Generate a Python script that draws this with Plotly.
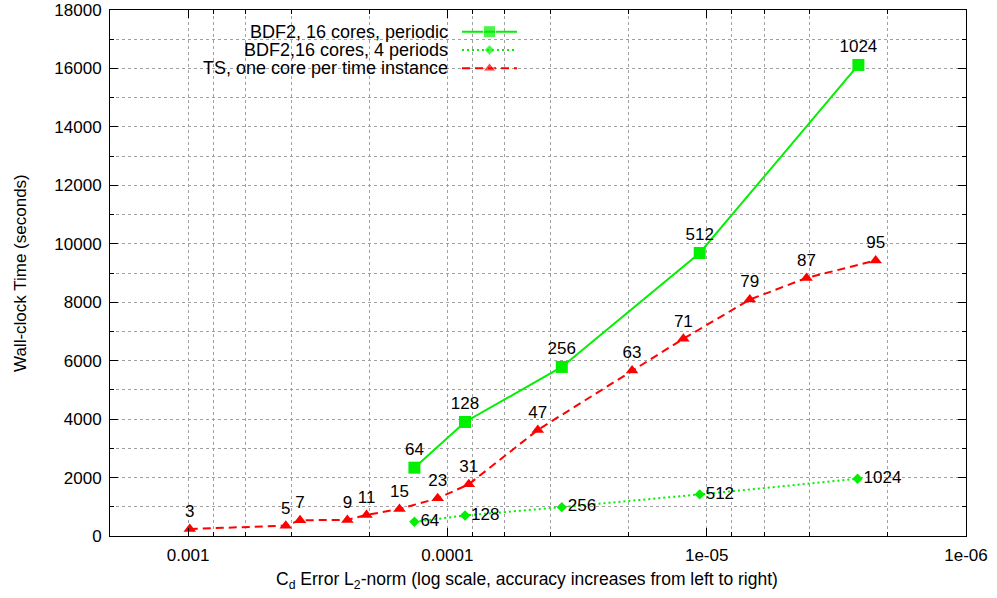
import plotly.graph_objects as go

# ---------------- data ----------------
# BDF2, 16 cores, periodic
bdf_x = [1.34e-4, 8.55e-5, 3.62e-5, 1.064e-5, 2.6e-6]
bdf_y = [2338, 3901, 5786, 9684, 16120]
bdf_lbl = ["64", "128", "256", "512", "1024"]

# BDF2, 16 cores, 4 periods
bdf4_x = [1.34e-4, 8.55e-5, 3.62e-5, 1.064e-5, 2.62e-6]
bdf4_y = [487, 703, 987, 1423, 1961]
bdf4_lbl = ["64", "128", "256", "512", "1024"]

# TS, one core per time instance
ts_x = [9.85e-4, 4.2e-4, 3.7e-4, 2.43e-4, 2.05e-4, 1.53e-4, 1.09e-4, 8.27e-5,
        4.48e-5, 1.94e-5, 1.23e-5, 6.82e-6, 4.12e-6, 2.23e-6]
ts_y = [240, 355, 540, 550, 720, 925, 1290, 1770,
        3630, 5665, 6750, 8090, 8830, 9430]
ts_lbl = ["3", "5", "7", "9", "11", "15", "23", "31",
          "47", "63", "71", "79", "87", "95"]

x_tickvals = [1e-3, 1e-4, 1e-5, 1e-6]
x_ticktext = ["0.001", "0.0001", "1e-05", "1e-06"]
x_minor = [8e-4, 6e-4, 4e-4, 2e-4, 8e-5, 6e-5, 4e-5, 2e-5, 8e-6, 6e-6, 4e-6, 2e-6]

legend_names = ["BDF2, 16 cores, periodic", "BDF2,16 cores, 4 periods",
                "TS, one core per time instance"]
x_title = "C<sub>d</sub> Error L<sub>2</sub>-norm (log scale, accuracy increases from left to right)"
y_title = "Wall-clock Time (seconds)"

# ---------------- styling / layout ----------------
FONT = "Liberation Sans"
GREEN = "#00f000"
RED = "#ff0000"
W, H = 997, 598
PL, PR, PT, PB = 110, 966, 10, 536   # plot area in pixels
L, T, R, B = PL, PT, W - PR, H - PB
SQ, DI, TR = 12, 8, 11

fig = go.Figure()

fig.add_trace(go.Scatter(
    x=bdf_x, y=bdf_y, mode="lines+markers+text", text=bdf_lbl,
    textposition="top center", textfont=dict(family=FONT, size=17, color="black"),
    line=dict(color=GREEN, width=2),
    marker=dict(symbol="square", size=SQ, color=GREEN),
    showlegend=False, cliponaxis=False))

fig.add_trace(go.Scatter(
    x=bdf4_x, y=bdf4_y, mode="lines+markers+text", text=bdf4_lbl,
    textposition="middle right", textfont=dict(family=FONT, size=17, color="black"),
    line=dict(color=GREEN, width=2, dash="2px,3px"),
    marker=dict(symbol="diamond", size=DI, color=GREEN),
    showlegend=False, cliponaxis=False))

fig.add_trace(go.Scatter(
    x=ts_x, y=ts_y, mode="lines+markers+text", text=ts_lbl,
    textposition="top center", textfont=dict(family=FONT, size=17, color="black"),
    line=dict(color=RED, width=2, dash="8px,5px"),
    marker=dict(symbol="triangle-up", size=TR, color=RED),
    showlegend=False, cliponaxis=False))

# ---------------- custom gnuplot-style key (text left, sample right) ----------------
# overlay axes x2/y2 map 1:1 to pixels of the plot area
key_rows = [31.7, 50, 68.3]
key_text_right = 450
key_line = (462, 517)
key_styles = [
    dict(color=GREEN, dash="solid", symbol="square", size=SQ),
    dict(color=GREEN, dash="2px,3px", symbol="diamond", size=DI),
    dict(color=RED, dash="8px,5px", symbol="triangle-up", size=TR),
]
for name, yy, st in zip(legend_names, key_rows, key_styles):
    xm = (key_line[0] + key_line[1]) / 2
    fig.add_trace(go.Scatter(
        x=[key_line[0], xm, key_line[1]], y=[yy, yy, yy], mode="lines+markers",
        xaxis="x2", yaxis="y2",
        line=dict(color=st["color"], width=2, dash=st["dash"]),
        marker=dict(symbol=st["symbol"], size=[0, st["size"], 0], color=st["color"]),
        showlegend=False, hoverinfo="skip", cliponaxis=False))
    fig.add_annotation(x=key_text_right, y=yy, xref="x2", yref="y2", text=name,
                       showarrow=False, xanchor="right", yanchor="middle",
                       font=dict(family=FONT, size=18, color="black"))

# opaque key box hiding the grid
pw, ph = PR - PL, PB - PT
fig.add_shape(type="rect", xref="paper", yref="paper",
              x0=(125 - PL) / pw, x1=(527 - PL) / pw,
              y0=(PB - 80) / ph, y1=(PB - 22) / ph,
              fillcolor="white", line=dict(width=0), layer="between")

# axis titles placed like gnuplot does
fig.add_annotation(x=(527 - PL) / pw, y=(PB - 580) / ph, xref="paper", yref="paper",
                   text=x_title, showarrow=False, xanchor="center", yanchor="middle",
                   font=dict(family=FONT, size=17.5, color="black"))
fig.add_annotation(x=(20 - PL) / pw, y=0.5, xref="paper", yref="paper",
                   text=y_title, showarrow=False, textangle=-90,
                   xanchor="center", yanchor="middle",
                   font=dict(family=FONT, size=17, color="black"))

axis_common = dict(
    showline=True, linecolor="black", linewidth=1, mirror="allticks",
    ticks="inside", ticklen=8, tickcolor="black", tickwidth=1,
    showgrid=True, gridcolor="#a0a0a0", griddash="dot", gridwidth=1,
    zeroline=False, automargin=False, ticklabeloverflow="allow",
    tickfont=dict(family=FONT, size=17, color="black"),
)

fig.update_layout(
    width=W, height=H,
    margin=dict(l=L, r=R, t=T, b=B, autoexpand=False),
    paper_bgcolor="white", plot_bgcolor="white",
    font=dict(family=FONT, size=17, color="black"),
    xaxis=dict(
        type="log", range=[-2.69897, -6],
        tickmode="array", tickvals=x_tickvals, ticktext=x_ticktext,
        ticklabelstandoff=4,
        minor=dict(tickvals=x_minor, ticks="inside", ticklen=4, tickcolor="black",
                   showgrid=True, gridcolor="#a0a0a0", griddash="dot", gridwidth=1),
        **axis_common),
    yaxis=dict(
        range=[0, 18000], tickmode="linear", tick0=0, dtick=2000, tickformat="d",
        ticklabelstandoff=4,
        minor=dict(dtick=1000, ticks="inside", ticklen=4, tickcolor="black",
                   showgrid=True, gridcolor="#a0a0a0", griddash="dot", gridwidth=1),
        **axis_common),
    xaxis2=dict(overlaying="x", range=[PL, PR], visible=False, fixedrange=True),
    yaxis2=dict(overlaying="y", range=[PB, PT], visible=False, fixedrange=True),
)

fig.write_html("out.html", config={"displayModeBar": False},
               post_script="document.body.style.margin='0';document.body.style.overflow='hidden';")
